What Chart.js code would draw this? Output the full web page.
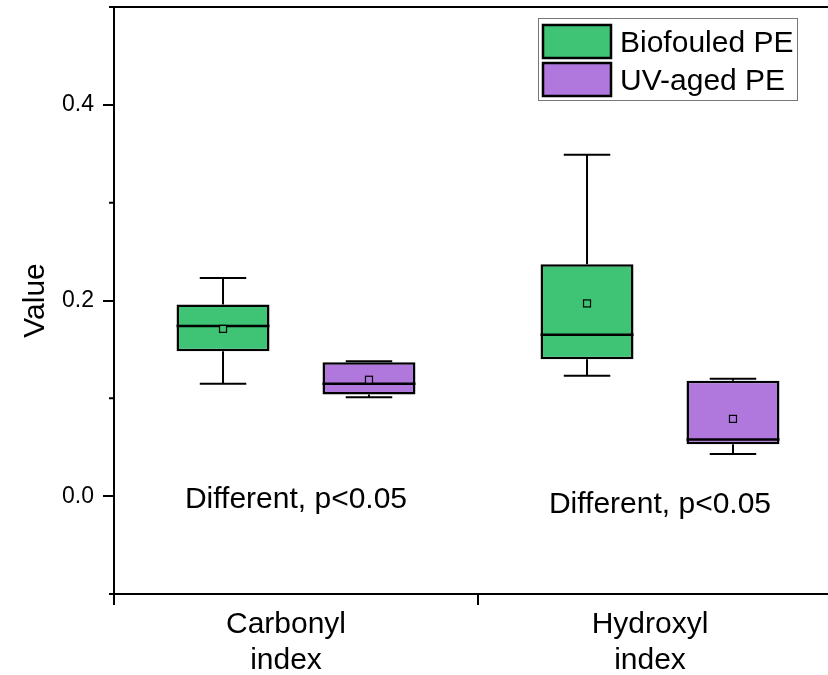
<!DOCTYPE html>
<html>
<head>
<meta charset="utf-8">
<title>Carbonyl / Hydroxyl index</title>
<script src="https://cdn.jsdelivr.net/npm/chart.js@4/dist/chart.umd.min.js"></script>
<style>
    html, body { margin: 0; padding: 0; background: #fff; overflow: hidden; }
    #wrap { width: 828px; height: 675px; overflow: hidden; position: relative; }
    #boxChart { display: block; }
</style>
</head>
<body>
<div id="wrap"><canvas id="boxChart" width="900" height="675" style="width:900px;height:675px"></canvas></div>
<script>
// Daten
const categories = [['Carbonyl', 'index'], ['Hydroxyl', 'index']];
const seriesNames = ['Biofouled PE', 'UV-aged PE'];
const seriesColors = ['#3EC474', '#B078DD'];

const bioMin  = [0.115, 0.123];
const bioQ1   = [0.148, 0.140];
const bioMed  = [0.174, 0.165];
const bioQ3   = [0.196, 0.237];
const bioMax  = [0.223, 0.349];
const bioMean = [0.171, 0.197];

const uvMin  = [0.101, 0.043];
const uvQ1   = [0.104, 0.053];
const uvMed  = [0.115, 0.058];
const uvQ3   = [0.137, 0.118];
const uvMax  = [0.138, 0.120];
const uvMean = [0.119, 0.079];

const notes = ['Different, p<0.05', 'Different, p<0.05'];
const noteY = [-0.012, -0.017];

const yMajor = [0.0, 0.2, 0.4];
const yMinor = [-0.1, 0.1, 0.3, 0.5];

const stats = [
    { min: bioMin, q1: bioQ1, med: bioMed, q3: bioQ3, max: bioMax, mean: bioMean },
    { min: uvMin, q1: uvQ1, med: uvMed, q3: uvQ3, max: uvMax, mean: uvMean }
];

const FONT = "'Liberation Sans', Arial, sans-serif";

function isMajor(v) {
    return yMajor.some(m => Math.abs(m - v) < 1e-6);
}

function fmt(v) {
    const r = Math.round(v * 10) / 10;
    return (Math.abs(r) < 1e-9 ? 0 : r).toFixed(1);
}

// Whisker, Median, Mittelwert
const boxExtras = {
    id: 'boxExtras',
    afterDatasetsDraw(chart) {
        const ctx = chart.ctx;
        const y = chart.scales.y;
        ctx.save();
        stats.forEach((s, d) => {
            const meta = chart.getDatasetMeta(d);
            meta.data.forEach((bar, i) => {
                const x = bar.x;
                const w = bar.width;
                const cap = w / 4;
                ctx.strokeStyle = '#000';
                ctx.lineWidth = 2;
                // oberer Whisker
                ctx.beginPath();
                ctx.moveTo(x, y.getPixelForValue(s.q3[i]));
                ctx.lineTo(x, y.getPixelForValue(s.max[i]));
                ctx.moveTo(x - cap, y.getPixelForValue(s.max[i]));
                ctx.lineTo(x + cap, y.getPixelForValue(s.max[i]));
                // unterer Whisker
                ctx.moveTo(x, y.getPixelForValue(s.q1[i]));
                ctx.lineTo(x, y.getPixelForValue(s.min[i]));
                ctx.moveTo(x - cap, y.getPixelForValue(s.min[i]));
                ctx.lineTo(x + cap, y.getPixelForValue(s.min[i]));
                ctx.stroke();
                // Median
                ctx.beginPath();
                ctx.lineWidth = 2.5;
                ctx.moveTo(x - w / 2, y.getPixelForValue(s.med[i]));
                ctx.lineTo(x + w / 2, y.getPixelForValue(s.med[i]));
                ctx.stroke();
                // Mittelwert
                const my = y.getPixelForValue(s.mean[i]);
                ctx.fillStyle = seriesColors[d];
                ctx.lineWidth = 1.2;
                ctx.fillRect(x - 3.5, my - 3.5, 7, 7);
                ctx.strokeRect(x - 3.5, my - 3.5, 7, 7);
            });
        });
        ctx.restore();
    }
};

// Rahmen oben, kleine Ticks, Texte, Legende
const decorations = {
    id: 'decorations',
    afterDraw(chart) {
        const ctx = chart.ctx;
        const area = chart.chartArea;
        const x = chart.scales.x;
        const y = chart.scales.y;
        ctx.save();
        ctx.strokeStyle = '#000';
        ctx.lineWidth = 2;
        ctx.beginPath();
        ctx.moveTo(area.left, area.top);
        ctx.lineTo(area.right, area.top);
        yMinor.forEach(v => {
            const py = y.getPixelForValue(v);
            ctx.moveTo(area.left - 5, py);
            ctx.lineTo(area.left, py);
        });
        ctx.stroke();

        // Anmerkungen
        ctx.fillStyle = '#000';
        ctx.font = '30px ' + FONT;
        ctx.textAlign = 'center';
        ctx.textBaseline = 'alphabetic';
        notes.forEach((t, i) => {
            ctx.fillText(t, x.getPixelForValue(i), y.getPixelForValue(noteY[i]));
        });

        // Legende
        const lx = 538, ly = 18;
        ctx.lineWidth = 1;
        ctx.strokeStyle = '#777';
        ctx.fillStyle = '#fff';
        ctx.fillRect(lx, ly, 260, 83);
        ctx.strokeRect(lx + 0.5, ly + 0.5, 259, 82);
        ctx.textAlign = 'left';
        seriesNames.forEach((name, i) => {
            const sy = ly + 7 + i * 38;
            ctx.fillStyle = seriesColors[i];
            ctx.fillRect(lx + 5, sy, 68, 33);
            ctx.strokeStyle = '#000';
            ctx.lineWidth = 2.5;
            ctx.strokeRect(lx + 5, sy, 68, 33);
            ctx.fillStyle = '#000';
            ctx.fillText(name, lx + 82, sy + 27);
        });
        ctx.restore();
    }
};

function noPad(s) {
    s.paddingTop = 0;
    s.paddingBottom = 0;
    s.paddingLeft = 0;
    s.paddingRight = 0;
}

function main() {
    const datasets = stats.map((s, d) => ({
        label: seriesNames[d],
        data: s.q1.map((q, i) => [q, s.q3[i]]),
        backgroundColor: seriesColors[d],
        borderColor: '#000',
        borderWidth: 2.5,
        borderSkipped: false,
        categoryPercentage: 0.802,
        barPercentage: 0.637
    }));

    new Chart(document.getElementById('boxChart'), {
        type: 'bar',
        data: { labels: categories, datasets: datasets },
        options: {
            responsive: false,
            animation: false,
            layout: { padding: { top: 7, right: 58, bottom: 0, left: 0 }, autoPadding: false },
            plugins: { legend: { display: false }, tooltip: { enabled: false } },
            scales: {
                x: {
                    offset: true,
                    grid: { offset: true, drawOnChartArea: false, color: '#000', lineWidth: 2, tickLength: 11 },
                    border: { display: true, color: '#000', width: 2 },
                    ticks: {
                        color: '#000',
                        font: { family: FONT, size: 30 },
                        padding: 2,
                        labelOffset: -10,
                        maxRotation: 0,
                        autoSkip: false
                    },
                    afterFit: s => { s.height = 81; noPad(s); }
                },
                y: {
                    min: -0.1,
                    max: 0.5,
                    ticks: {
                        stepSize: 0.1,
                        color: '#000',
                        font: { family: FONT, size: 23 },
                        padding: 9,
                        callback: v => isMajor(v) ? fmt(v) : ''
                    },
                    grid: {
                        drawOnChartArea: false,
                        tickLength: 11,
                        lineWidth: 2,
                        color: c => (c.tick && isMajor(c.tick.value)) ? '#000' : 'rgba(0,0,0,0)'
                    },
                    border: { display: true, color: '#000', width: 2 },
                    title: {
                        display: true,
                        text: 'Value',
                        color: '#000',
                        font: { family: FONT, size: 30 },
                        padding: { top: 18, bottom: 0 }
                    },
                    afterFit: s => { s.width = 114; noPad(s); }
                }
            }
        },
        plugins: [boxExtras, decorations]
    });
}

window.onload = function () {
    main();
};
</script>
</body>
</html>
